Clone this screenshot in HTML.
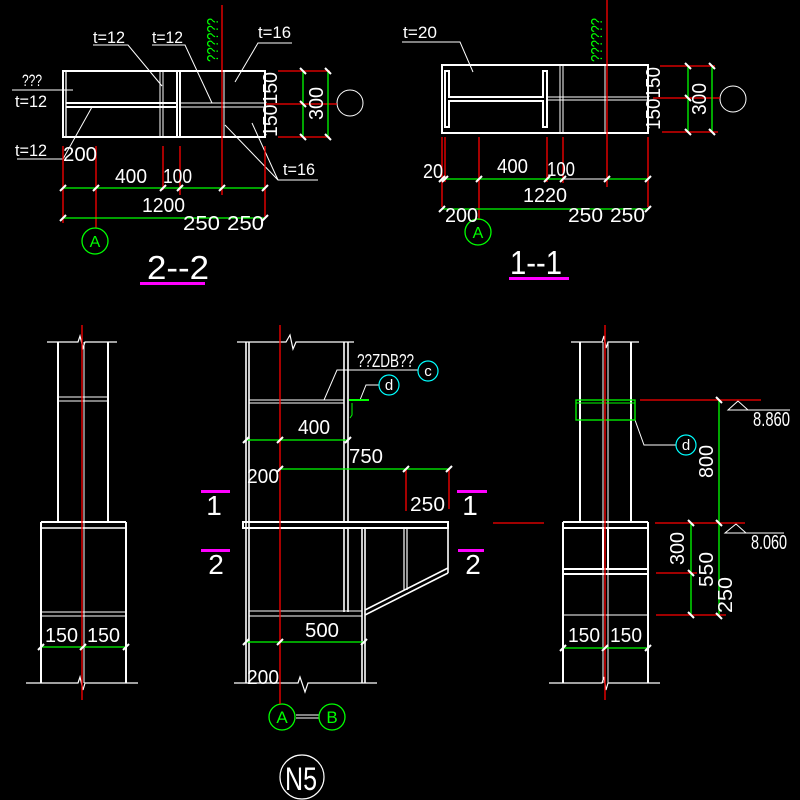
<!DOCTYPE html>
<html><head><meta charset="utf-8"><style>
html,body{margin:0;padding:0;background:#000;width:800px;height:800px;overflow:hidden}
svg{display:block}
text{font-family:"Liberation Sans",sans-serif;fill:#fff}
</style></head><body>
<svg width="800" height="800" viewBox="0 0 800 800" xmlns="http://www.w3.org/2000/svg">
<rect width="800" height="800" fill="#000"/>

<!-- ================= SECTION 2-2 ================= -->
<g stroke="#fff" fill="none">
  <rect x="63" y="71" width="202" height="66" stroke-width="2"/>
  <line x1="66" y1="71" x2="66" y2="137" stroke-width="1.3"/>
  <line x1="66" y1="103" x2="177" y2="103" stroke-width="2"/>
  <line x1="66" y1="107" x2="177" y2="107" stroke-width="2"/>
  <line x1="177" y1="71" x2="177" y2="137" stroke-width="2"/>
  <line x1="180" y1="71" x2="180" y2="137" stroke-width="2"/>
  <line x1="160" y1="71" x2="160" y2="137" stroke-width="1"/>
  <line x1="163" y1="71" x2="163" y2="137" stroke-width="1"/>
  <line x1="180" y1="103" x2="265" y2="103" stroke-width="1"/>
  <line x1="180" y1="107" x2="265" y2="107" stroke-width="1"/>
  <line x1="224" y1="71" x2="224" y2="137" stroke-width="1"/>
  <circle cx="350" cy="103" r="13" stroke-width="1"/>
  <!-- leaders -->
  <polyline points="93,45 128,45 162,86" stroke-width="1"/>
  <polyline points="152,45 185,45 212,103" stroke-width="1"/>
  <polyline points="292,43 258,43 235,82" stroke-width="1"/>
  <line x1="12" y1="90" x2="73" y2="90" stroke-width="1"/>
  <polyline points="17,159 63,159 92,107" stroke-width="1"/>
  <polyline points="318,180 278,180 225,125" stroke-width="1"/>
  <line x1="278" y1="180" x2="252" y2="123" stroke-width="1"/>
</g>
<g stroke="#f00" stroke-width="1.3">
  <line x1="222" y1="5" x2="222" y2="195"/>
  <line x1="278" y1="71" x2="330" y2="71"/>
  <line x1="266" y1="104" x2="337" y2="104"/>
  <line x1="278" y1="137" x2="330" y2="137"/>
  <line x1="63" y1="146" x2="63" y2="223"/>
  <line x1="96" y1="146" x2="96" y2="228"/>
  <line x1="163" y1="146" x2="163" y2="190"/>
  <line x1="180" y1="146" x2="180" y2="195"/>
  <line x1="265" y1="146" x2="265" y2="218"/>
</g>
<g stroke="#0f0" stroke-width="1.3" fill="none">
  <line x1="303" y1="71" x2="303" y2="137"/>
  <line x1="328" y1="71" x2="328" y2="137"/>
  <line x1="63" y1="188" x2="265" y2="188"/>
  <line x1="63" y1="218" x2="265" y2="218"/>
  <circle cx="95" cy="241" r="13"/>
</g>
<g stroke="#fff" stroke-width="2">
  <line x1="300" y1="68" x2="306" y2="74"/><line x1="300" y1="101" x2="306" y2="107"/><line x1="300" y1="134" x2="306" y2="140"/>
  <line x1="325" y1="68" x2="331" y2="74"/><line x1="325" y1="134" x2="331" y2="140"/>
  <line x1="60" y1="191" x2="66" y2="185"/><line x1="93" y1="191" x2="99" y2="185"/><line x1="160" y1="191" x2="166" y2="185"/>
  <line x1="177" y1="191" x2="183" y2="185"/><line x1="219" y1="191" x2="225" y2="185"/><line x1="262" y1="191" x2="268" y2="185"/>
  <line x1="60" y1="221" x2="66" y2="215"/><line x1="262" y1="221" x2="268" y2="215"/>
</g>
<rect x="140" y="282" width="65" height="3" fill="#f0f"/>
<g font-size="17">
  <text x="93" y="43" textLength="32" lengthAdjust="spacingAndGlyphs">t=12</text>
  <text x="152" y="43" textLength="31" lengthAdjust="spacingAndGlyphs">t=12</text>
  <text x="258" y="38" textLength="33" lengthAdjust="spacingAndGlyphs">t=16</text>
  <text x="22" y="86" textLength="20" lengthAdjust="spacingAndGlyphs">???</text>
  <text x="15" y="107" textLength="32" lengthAdjust="spacingAndGlyphs">t=12</text>
  <text x="15" y="156" textLength="32" lengthAdjust="spacingAndGlyphs">t=12</text>
  <text x="283" y="175" textLength="32" lengthAdjust="spacingAndGlyphs">t=16</text>
</g>
<g font-size="20">
  <text x="63" y="161" textLength="34" lengthAdjust="spacingAndGlyphs">200</text>
  <text x="115" y="183" textLength="32" lengthAdjust="spacingAndGlyphs">400</text>
  <text x="163" y="183" textLength="29" lengthAdjust="spacingAndGlyphs">100</text>
  <text x="142" y="212" textLength="43" lengthAdjust="spacingAndGlyphs">1200</text>
  <text x="183" y="230" textLength="37" lengthAdjust="spacingAndGlyphs">250</text>
  <text x="227" y="230" textLength="37" lengthAdjust="spacingAndGlyphs">250</text>
  <text transform="translate(277,137) rotate(-90)" textLength="65" lengthAdjust="spacingAndGlyphs">150150</text>
  <text transform="translate(323,120) rotate(-90)" textLength="33" lengthAdjust="spacingAndGlyphs">300</text>
</g>
<text transform="translate(218,62) rotate(-90)" font-size="16" style="fill:#0f0" textLength="44" lengthAdjust="spacingAndGlyphs">??????</text>
<text x="95" y="247" font-size="16" text-anchor="middle" style="fill:#0f0">A</text>
<text x="147" y="279" font-size="33" textLength="62" lengthAdjust="spacingAndGlyphs">2--2</text>

<!-- ================= SECTION 1-1 ================= -->
<g stroke="#fff" fill="none">
  <rect x="442" y="65" width="206" height="68" stroke-width="2"/>
  <polygon points="445,71 449,71 449,97 543,97 543,71 547,71 547,127 543,127 543,101 449,101 449,127 445,127" stroke-width="2"/>
  <line x1="560" y1="65" x2="560" y2="133" stroke-width="1"/>
  <line x1="563" y1="65" x2="563" y2="133" stroke-width="1"/>
  <line x1="547" y1="97" x2="648" y2="97" stroke-width="1"/>
  <line x1="547" y1="100" x2="648" y2="100" stroke-width="1"/>
  <line x1="605" y1="65" x2="605" y2="133" stroke-width="1"/>
  <circle cx="733" cy="99" r="13" stroke-width="1"/>
  <polyline points="402,42 460,42 473,72" stroke-width="1"/>
</g>
<g stroke="#f00" stroke-width="1.3">
  <line x1="607" y1="0" x2="607" y2="187"/>
  <line x1="660" y1="66" x2="715" y2="66"/>
  <line x1="653" y1="98" x2="720" y2="98"/>
  <line x1="662" y1="132" x2="718" y2="132"/>
  <line x1="442" y1="137" x2="442" y2="207"/>
  <line x1="445" y1="137" x2="445" y2="182"/>
  <line x1="479" y1="137" x2="479" y2="220"/>
  <line x1="547" y1="137" x2="547" y2="182"/>
  <line x1="563" y1="137" x2="563" y2="183"/>
  <line x1="648" y1="137" x2="648" y2="207"/>
</g>
<g stroke="#0f0" stroke-width="1.3" fill="none">
  <line x1="688" y1="66" x2="688" y2="132"/>
  <line x1="712" y1="66" x2="712" y2="132"/>
  <line x1="442" y1="179" x2="563" y2="179"/>
  <line x1="607" y1="179" x2="648" y2="179"/>
  <line x1="442" y1="209" x2="648" y2="209"/>
  <circle cx="478" cy="232" r="13"/>
</g>
<line x1="563" y1="179" x2="607" y2="179" stroke="#fff" stroke-width="1"/>
<g stroke="#fff" stroke-width="2">
  <line x1="685" y1="63" x2="691" y2="69"/><line x1="685" y1="95" x2="691" y2="101"/><line x1="685" y1="129" x2="691" y2="135"/>
  <line x1="709" y1="63" x2="715" y2="69"/><line x1="709" y1="129" x2="715" y2="135"/>
  <line x1="439" y1="182" x2="445" y2="176"/><line x1="442" y1="182" x2="448" y2="176"/><line x1="476" y1="182" x2="482" y2="176"/>
  <line x1="544" y1="182" x2="550" y2="176"/><line x1="560" y1="182" x2="566" y2="176"/><line x1="604" y1="182" x2="610" y2="176"/>
  <line x1="645" y1="182" x2="651" y2="176"/>
  <line x1="439" y1="212" x2="445" y2="206"/><line x1="645" y1="212" x2="651" y2="206"/>
</g>
<rect x="509" y="277" width="60" height="3" fill="#f0f"/>
<text x="403" y="38" font-size="17" textLength="34" lengthAdjust="spacingAndGlyphs">t=20</text>
<g font-size="20">
  <text x="423" y="178" textLength="20" lengthAdjust="spacingAndGlyphs">20</text>
  <text x="497" y="173" textLength="31" lengthAdjust="spacingAndGlyphs">400</text>
  <text x="547" y="176" textLength="28" lengthAdjust="spacingAndGlyphs">100</text>
  <text x="523" y="202" textLength="44" lengthAdjust="spacingAndGlyphs">1220</text>
  <text x="445" y="222" textLength="33" lengthAdjust="spacingAndGlyphs">200</text>
  <text x="568" y="222" textLength="35" lengthAdjust="spacingAndGlyphs">250</text>
  <text x="610" y="222" textLength="35" lengthAdjust="spacingAndGlyphs">250</text>
  <text transform="translate(660,130) rotate(-90)" textLength="63" lengthAdjust="spacingAndGlyphs">150150</text>
  <text transform="translate(706,115) rotate(-90)" textLength="32" lengthAdjust="spacingAndGlyphs">300</text>
</g>
<text transform="translate(602,62) rotate(-90)" font-size="16" style="fill:#0f0" textLength="44" lengthAdjust="spacingAndGlyphs">??????</text>
<text x="478" y="238" font-size="16" text-anchor="middle" style="fill:#0f0">A</text>
<text x="510" y="274" font-size="33" textLength="52" lengthAdjust="spacingAndGlyphs">1--1</text>

<!-- ================= LEFT COLUMN ================= -->
<g stroke="#fff" fill="none">
  <polyline points="47,342 78,342 80,336 83,348 85,342 117,342" stroke-width="1.2"/>
  <line x1="58" y1="342" x2="58" y2="522" stroke-width="2"/>
  <line x1="108" y1="342" x2="108" y2="522" stroke-width="2"/>
  <line x1="84" y1="342" x2="84" y2="683" stroke-width="1"/>
  <line x1="58" y1="397" x2="108" y2="397" stroke-width="1"/>
  <line x1="58" y1="401" x2="108" y2="401" stroke-width="1"/>
  <line x1="41" y1="522" x2="126" y2="522" stroke-width="2"/>
  <line x1="41" y1="528" x2="126" y2="528" stroke-width="1.5"/>
  <line x1="41" y1="522" x2="41" y2="683" stroke-width="2"/>
  <line x1="126" y1="522" x2="126" y2="683" stroke-width="2"/>
  <line x1="41" y1="612" x2="126" y2="612" stroke-width="1"/>
  <line x1="41" y1="616" x2="126" y2="616" stroke-width="1"/>
  <polyline points="26,683 78,683 80,677 83,690 85,683 138,683" stroke-width="1.2"/>
</g>
<line x1="82" y1="325" x2="82" y2="700" stroke="#f00" stroke-width="1.3"/>
<line x1="41" y1="647" x2="126" y2="647" stroke="#0f0" stroke-width="1.3"/>
<g stroke="#fff" stroke-width="2">
  <line x1="38" y1="650" x2="44" y2="644"/><line x1="80" y1="650" x2="86" y2="644"/><line x1="123" y1="650" x2="129" y2="644"/>
</g>
<g font-size="20">
  <text x="45" y="642" textLength="33" lengthAdjust="spacingAndGlyphs">150</text>
  <text x="87" y="642" textLength="33" lengthAdjust="spacingAndGlyphs">150</text>
</g>

<!-- ================= MIDDLE COLUMN ================= -->
<g stroke="#fff" fill="none">
  <polyline points="237,342 286,342 290,335 293,349 296,342 354,342" stroke-width="1.2"/>
  <line x1="246" y1="342" x2="246" y2="683" stroke-width="1.6"/>
  <line x1="249" y1="342" x2="249" y2="683" stroke-width="1.6"/>
  <line x1="344" y1="342" x2="344" y2="522" stroke-width="1.6"/>
  <line x1="348" y1="342" x2="348" y2="522" stroke-width="1.6"/>
  <line x1="249" y1="400" x2="344" y2="400" stroke-width="1"/>
  <line x1="249" y1="403" x2="344" y2="403" stroke-width="1"/>
  <polyline points="324,400 337,370 418,370" stroke-width="1"/>
  <polyline points="360,400 366,385 379,385" stroke-width="1"/>
  <rect x="243" y="522" width="205" height="6" stroke-width="2"/>
  <line x1="344" y1="528" x2="344" y2="612" stroke-width="1.6"/>
  <line x1="348" y1="528" x2="348" y2="612" stroke-width="1.6"/>
  <line x1="362" y1="528" x2="362" y2="683" stroke-width="1.6"/>
  <line x1="365" y1="528" x2="365" y2="683" stroke-width="1.6"/>
  <line x1="404" y1="528" x2="404" y2="590" stroke-width="1.2"/>
  <line x1="407" y1="528" x2="407" y2="590" stroke-width="1.2"/>
  <line x1="448" y1="528" x2="448" y2="573" stroke-width="1.6"/>
  <line x1="448" y1="568" x2="365" y2="610" stroke-width="1.6"/>
  <line x1="448" y1="573" x2="365" y2="615" stroke-width="1.6"/>
  <line x1="249" y1="611" x2="362" y2="611" stroke-width="1"/>
  <line x1="249" y1="616" x2="362" y2="616" stroke-width="1"/>
  <polyline points="234,683 298,683 300,677 305,692 308,683 377,683" stroke-width="1.2"/>
  <line x1="296" y1="715" x2="319" y2="715" stroke-width="1"/>
  <line x1="296" y1="718" x2="319" y2="718" stroke-width="1"/>
  <circle cx="302" cy="777" r="22" stroke-width="1.2"/>
</g>
<g stroke="#0ff" stroke-width="1.2" fill="none">
  <circle cx="428" cy="371" r="10"/>
  <circle cx="389" cy="385" r="10"/>
</g>
<g stroke="#0f0" fill="none">
  <line x1="349" y1="400" x2="369" y2="400" stroke-width="2"/>
  <path d="M352,403 L352,415 L350,418" stroke-width="1"/>
  <line x1="246" y1="440" x2="349" y2="440" stroke-width="1.3"/>
  <line x1="280" y1="469" x2="449" y2="469" stroke-width="1.3"/>
  <line x1="246" y1="642" x2="364" y2="642" stroke-width="1.3"/>
  <circle cx="282" cy="717" r="13" stroke-width="1.3"/>
  <circle cx="332" cy="717" r="13" stroke-width="1.3"/>
</g>
<g stroke="#f00" stroke-width="1.3">
  <line x1="280" y1="325" x2="280" y2="704"/>
  <line x1="406" y1="469" x2="406" y2="511"/>
  <line x1="449" y1="469" x2="449" y2="509"/>
</g>
<g stroke="#fff" stroke-width="2">
  <line x1="243" y1="443" x2="249" y2="437"/><line x1="277" y1="443" x2="283" y2="437"/><line x1="345" y1="443" x2="351" y2="437"/>
  <line x1="277" y1="472" x2="283" y2="466"/><line x1="403" y1="472" x2="409" y2="466"/><line x1="446" y1="472" x2="452" y2="466"/>
  <line x1="243" y1="645" x2="249" y2="639"/><line x1="277" y1="645" x2="283" y2="639"/><line x1="361" y1="645" x2="367" y2="639"/>
</g>
<g fill="#f0f">
  <rect x="201" y="490" width="29" height="3"/>
  <rect x="457" y="490" width="30" height="3"/>
  <rect x="201" y="549" width="29" height="3"/>
  <rect x="458" y="549" width="26" height="3"/>
</g>
<g font-size="28" text-anchor="middle">
  <text x="214" y="515">1</text>
  <text x="470" y="515">1</text>
  <text x="216" y="574">2</text>
  <text x="473" y="574">2</text>
</g>
<text x="357" y="367" font-size="18" textLength="57" lengthAdjust="spacingAndGlyphs">??ZDB??</text>
<text x="428" y="376" font-size="15" text-anchor="middle">c</text>
<text x="389" y="390" font-size="15" text-anchor="middle">d</text>
<g font-size="20">
  <text x="298" y="434" textLength="32" lengthAdjust="spacingAndGlyphs">400</text>
  <text x="349" y="463" textLength="34" lengthAdjust="spacingAndGlyphs">750</text>
  <text x="247" y="483" textLength="32" lengthAdjust="spacingAndGlyphs">200</text>
  <text x="410" y="511" textLength="35" lengthAdjust="spacingAndGlyphs">250</text>
  <text x="305" y="637" textLength="34" lengthAdjust="spacingAndGlyphs">500</text>
  <text x="247" y="684" textLength="32" lengthAdjust="spacingAndGlyphs">200</text>
</g>
<g font-size="17" text-anchor="middle" style="fill:#0f0">
  <text x="282" y="723" style="fill:#0f0">A</text>
  <text x="332" y="723" style="fill:#0f0">B</text>
</g>
<text x="285" y="790" font-size="32" textLength="32" lengthAdjust="spacingAndGlyphs">N5</text>

<!-- ================= RIGHT COLUMN ================= -->
<g stroke="#fff" fill="none">
  <polyline points="571,342 602,342 604,336 606,348 608,342 639,342" stroke-width="1.2"/>
  <line x1="580" y1="342" x2="580" y2="522" stroke-width="2"/>
  <line x1="631" y1="342" x2="631" y2="522" stroke-width="2"/>
  <line x1="603" y1="342" x2="603" y2="683" stroke-width="1"/>
  <line x1="608" y1="342" x2="608" y2="683" stroke-width="1"/>
  <polyline points="635,420 644,445 676,445" stroke-width="1"/>
  <polygon points="738,401 728,410 748,410" stroke-width="1"/>
  <line x1="728" y1="410" x2="790" y2="410" stroke-width="1"/>
  <polygon points="736,524 725,533 746,533" stroke-width="1"/>
  <line x1="725" y1="533" x2="784" y2="533" stroke-width="1"/>
  <line x1="563" y1="522" x2="648" y2="522" stroke-width="2"/>
  <line x1="563" y1="528" x2="648" y2="528" stroke-width="2"/>
  <line x1="563" y1="522" x2="563" y2="683" stroke-width="2"/>
  <line x1="648" y1="522" x2="648" y2="683" stroke-width="2"/>
  <line x1="603" y1="528" x2="603" y2="569" stroke-width="2"/>
  <line x1="608" y1="528" x2="608" y2="569" stroke-width="2"/>
  <line x1="563" y1="569" x2="648" y2="569" stroke-width="2"/>
  <line x1="563" y1="574" x2="648" y2="574" stroke-width="2"/>
  <line x1="563" y1="615" x2="648" y2="615" stroke-width="1"/>
  <polyline points="549,683 602,683 604,677 606,690 608,683 660,683" stroke-width="1.2"/>
</g>
<circle cx="686" cy="445" r="10" stroke="#0ff" stroke-width="1.2" fill="none"/>
<g stroke="#0f0" fill="none" stroke-width="1.3">
  <rect x="576" y="400" width="59" height="20"/>
  <line x1="576" y1="403" x2="635" y2="403" stroke-width="1"/>
  <line x1="719" y1="400" x2="719" y2="616"/>
  <line x1="691" y1="523" x2="691" y2="615"/>
  <line x1="563" y1="648" x2="648" y2="648"/>
</g>
<g stroke="#f00" stroke-width="1.3">
  <line x1="605" y1="325" x2="605" y2="700"/>
  <line x1="640" y1="400" x2="761" y2="400"/>
  <line x1="655" y1="523" x2="745" y2="523"/>
  <line x1="493" y1="523" x2="544" y2="523"/>
  <line x1="656" y1="573" x2="697" y2="573"/>
  <line x1="656" y1="615" x2="726" y2="615"/>
</g>
<g stroke="#fff" stroke-width="2">
  <line x1="716" y1="397" x2="722" y2="403"/><line x1="716" y1="520" x2="722" y2="526"/><line x1="716" y1="613" x2="722" y2="619"/>
  <line x1="688" y1="520" x2="694" y2="526"/><line x1="688" y1="570" x2="694" y2="576"/><line x1="688" y1="612" x2="694" y2="618"/>
  <line x1="560" y1="651" x2="566" y2="645"/><line x1="602" y1="651" x2="608" y2="645"/><line x1="645" y1="651" x2="651" y2="645"/>
</g>
<text x="686" y="450" font-size="15" text-anchor="middle">d</text>
<g font-size="20">
  <text x="753" y="426" textLength="37" lengthAdjust="spacingAndGlyphs">8.860</text>
  <text x="751" y="549" textLength="36" lengthAdjust="spacingAndGlyphs">8.060</text>
  <text x="568" y="642" textLength="32" lengthAdjust="spacingAndGlyphs">150</text>
  <text x="610" y="642" textLength="32" lengthAdjust="spacingAndGlyphs">150</text>
  <text transform="translate(713,478) rotate(-90)" textLength="33" lengthAdjust="spacingAndGlyphs">800</text>
  <text transform="translate(684,565) rotate(-90)" textLength="33" lengthAdjust="spacingAndGlyphs">300</text>
  <text transform="translate(713,587) rotate(-90)" textLength="35" lengthAdjust="spacingAndGlyphs">550</text>
  <text transform="translate(732,613) rotate(-90)" textLength="36" lengthAdjust="spacingAndGlyphs">250</text>
</g>
</svg>
</body></html>
